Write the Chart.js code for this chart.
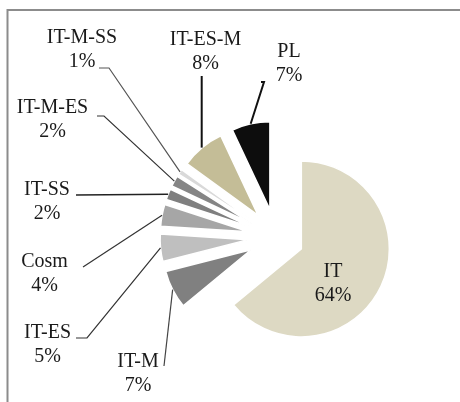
<!DOCTYPE html>
<html><head><meta charset="utf-8">
<script src="https://cdn.jsdelivr.net/npm/chart.js@4.4.1/dist/chart.umd.min.js"></script>
<style>html,body{margin:0;padding:0;background:#fff;overflow:hidden}
#wrap{position:relative;width:460px;height:402px}
canvas{display:block}
</style></head><body><div id="wrap"><canvas id="c" width="460" height="402" style="width:460px;height:402px"></canvas></div>
<script>
// ---- data ----
const categories = ['IT','IT-M','IT-ES','Cosm','IT-SS','IT-M-ES','IT-M-SS','IT-ES-M','PL'];
const shares = [64,7,5,4,2,2,1,8,7];
const percentLabels = ['64%','7%','5%','4%','2%','2%','1%','8%','7%'];

// ---- style ----
const sliceColors = ['#DDD9C3','#808080','#BFBFBF','#A6A6A6','#7F7F7F','#858585','#D9D9D9','#C4BD97','#0D0D0D'];
const explode = 28;
const pieRadius = 88;
const fontSpec = '20px "Liberation Serif", "Times New Roman", serif';
const lineGap = 24;
// label text centre (first line) and leader-line elbow points
const labelLayout = {
  'IT':      {x:333, y:272},
  'IT-M':    {x:138, y:362, path:[[164,366]], w:1.2, c:'#444'},
  'IT-ES':   {x:47.5, y:333, path:[[76,338],[87,338]], w:1.2, c:'#333'},
  'Cosm':    {x:44.5, y:262, path:[[83,267]], w:1.2, c:'#333'},
  'IT-SS':   {x:47, y:190, path:[[76,195]], w:1.4, c:'#222'},
  'IT-M-ES': {x:52.5, y:108, path:[[97,116],[104,116]], w:1.2, c:'#333'},
  'IT-M-SS': {x:82, y:38, path:[[99,68],[109,68]], w:1.2, c:'#555'},
  'IT-ES-M': {x:205.5, y:40, path:[[201.7,76]], w:2, c:'#111', vertical:true},
  'PL':      {x:289, y:52, path:[[261,82],[264,82]], w:2, c:'#111'}
};

const explodePlugin = {
  id:'explode',
  beforeDraw(chart){
    const ctx = chart.ctx;
    ctx.save();
    ctx.strokeStyle = '#8c8c8c';
    ctx.lineWidth = 2;
    ctx.beginPath();
    ctx.moveTo(7.5, 402); ctx.lineTo(7.5, 10); ctx.lineTo(460, 10);
    ctx.stroke();
    ctx.restore();
  },
  beforeDatasetDraw(chart, args){
    const ctx = chart.ctx;
    args.meta.data.forEach(el => {
      const mid = (el.startAngle + el.endAngle) / 2;
      ctx.save();
      ctx.translate(Math.cos(mid) * explode, Math.sin(mid) * explode);
      el.draw(ctx);
      ctx.restore();
    });
    return false;
  },
  afterDraw(chart){
    const ctx = chart.ctx;
    const meta = chart.getDatasetMeta(0);
    ctx.save();
    meta.data.forEach((el, i) => {
      const name = categories[i];
      const L = labelLayout[name];
      const mid = (el.startAngle + el.endAngle) / 2;
      const ax = el.x + Math.cos(mid) * (explode + el.outerRadius);
      const ay = el.y + Math.sin(mid) * (explode + el.outerRadius);
      if (L.path) {
        ctx.beginPath();
        ctx.strokeStyle = L.c; ctx.lineWidth = L.w;
        ctx.moveTo(L.path[0][0], L.path[0][1]);
        for (let k = 1; k < L.path.length; k++) ctx.lineTo(L.path[k][0], L.path[k][1]);
        if (L.vertical) ctx.lineTo(L.path[0][0], ay); else ctx.lineTo(ax, ay);
        ctx.stroke();
      }
      ctx.fillStyle = '#1a1a1a';
      ctx.font = fontSpec;
      ctx.textAlign = 'center';
      ctx.textBaseline = 'middle';
      ctx.fillText(name, L.x, L.y);
      ctx.fillText(percentLabels[i], L.x, L.y + lineGap);
    });
    ctx.restore();
  }
};

new Chart(document.getElementById('c'), {
  type: 'pie',
  data: {
    labels: categories,
    datasets: [{
      data: shares,
      backgroundColor: sliceColors,
      borderColor: '#ffffff',
      borderWidth: 1.5,
      radius: pieRadius
    }]
  },
  options: {
    responsive: false,
    animation: false,
    events: [],
    layout: {padding: {left: 92, right: 0, top: 72, bottom: 0}},
    plugins: {legend: {display: false}, tooltip: {enabled: false}, title: {display: false}}
  },
  plugins: [explodePlugin]
});
</script>
</body></html>
